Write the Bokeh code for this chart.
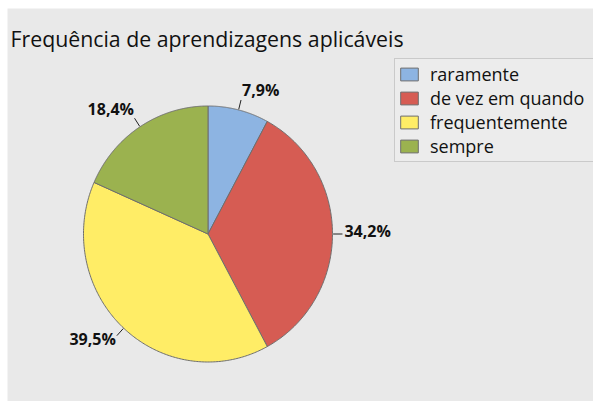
import numpy as np
from bokeh.plotting import figure
from bokeh.models import Range1d, Legend, LegendItem
from bokeh.core.properties import value
from bokeh.embed import file_html
from bokeh.resources import INLINE

# ---- data ----
categories = ["raramente", "de vez em quando", "frequentemente", "sempre"]
percentages = [7.9, 34.2, 39.5, 18.4]
percent_labels = ["7,9%", "34,2%", "39,5%", "18,4%"]
colors = ["#8DB4E2", "#D65C53", "#FFED66", "#9BB24F"]
title_text = "Frequência de aprendizagens aplicáveis"

# ---- layout / style ----
BG = "#E9E9E9"
FONT = "Open Sans"
OX, OY = 7, 8          # panel offset inside the figure
W, H = 593, 401
FW, FH = W - OX, H - OY


def sx(x):
    return x - OX


def sy(y):
    return FH - (y - OY)


p = figure(width=W, height=H, output_backend="svg", toolbar_location=None,
           x_range=Range1d(0, FW), y_range=Range1d(0, FH),
           min_border_left=OX, min_border_top=OY, min_border_right=0, min_border_bottom=0,
           x_axis_location=None, y_axis_location=None,
           background_fill_color=BG, border_fill_color="white", outline_line_color=None)
p.grid.visible = False

cx, cy = sx(207.5), sy(233.5)
rx, ry = 124.5, 128.0

total = float(sum(percentages))
cum = np.concatenate([[0.0], np.cumsum(percentages)])
renderers = []
mids = []
for i, v in enumerate(percentages):
    a0 = np.pi / 2 - 2 * np.pi * cum[i] / total
    a1 = np.pi / 2 - 2 * np.pi * cum[i + 1] / total
    t = np.linspace(a0, a1, 200)
    xs = np.concatenate([[cx], cx + rx * np.cos(t), [cx]])
    ys = np.concatenate([[cy], cy + ry * np.sin(t), [cy]])
    r = p.patch(xs, ys, fill_color=colors[i], line_color="#6E6E6E", line_width=1)
    renderers.append(r)
    mids.append((a0 + a1) / 2)

mids = np.array(mids)
x0 = cx + rx * 1.005 * np.cos(mids)
y0 = cy + ry * 1.005 * np.sin(mids)
x1 = cx + rx * 1.08 * np.cos(mids)
y1 = cy + ry * 1.08 * np.sin(mids)
p.segment(x0, y0, x1, y1, line_color="#222222", line_width=1)

# label anchors relative to leader ends
dx = [1, 2, -1, -0.5]
dy = [9.5, 3.5, -3.5, 9]
aligns = ["left", "left", "right", "right"]
p.text(x1 + np.array(dx), y1 + np.array(dy), text=percent_labels,
       text_align=aligns, text_baseline="alphabetic",
       text_font=value(FONT), text_font_style="bold", text_font_size="16px",
       text_color="#111111")

p.text([sx(10)], [sy(38)], text=[title_text], text_align="left",
       text_baseline="alphabetic", text_font=value(FONT), text_font_size="21.3px",
       text_color="#111111")

legend = Legend(items=[LegendItem(label=c, renderers=[r]) for c, r in zip(categories, renderers)],
                location=(sx(394), sy(162)), orientation="vertical",
                glyph_width=22, glyph_height=16, label_standoff=10, label_width=175,
                label_text_font=FONT, label_text_font_size="18px", label_text_color="#111111",
                padding=3, spacing=-3, margin=0,
                border_line_color="#A8A8A8", border_line_width=1,
                background_fill_color="#ECECEC", background_fill_alpha=1.0)
p.add_layout(legend)

open("out.html", "w").write(file_html(p, INLINE))
